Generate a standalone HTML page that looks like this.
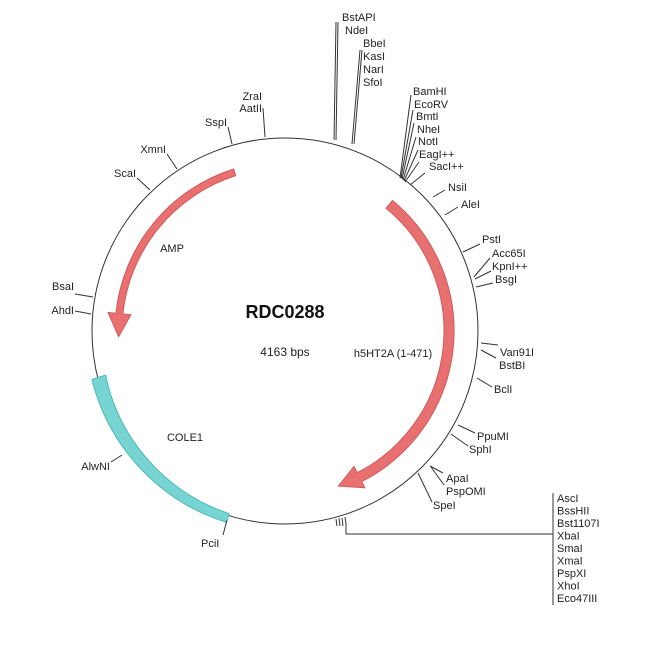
<!DOCTYPE html>
<html><head><style>
body{margin:0;background:#fff;}
svg{display:block;}
text{font-family:"Liberation Sans",Arial,sans-serif;font-size:11px;fill:#222;}
</style></head><body>
<svg width="650" height="650" viewBox="0 0 650 650" xmlns="http://www.w3.org/2000/svg">
<rect width="650" height="650" fill="#fff"/>
<circle cx="285" cy="331" r="193" fill="none" stroke="#333" stroke-width="1"/>
<path d="M 91.9 379.4 A 200 200 0 0 0 226.5 522.3 L 229.1 513.6 A 186 186 0 0 1 105.6 375.1 Z" fill="#76d5d3" stroke="#4fb8b6" stroke-width="1"/>
<path d="M233.6,169 A170 170 0 0 0 115.9,313.2 L108,312.4 L118.6,336.8 L130.9,314.8 L122.9,314 A163 163 0 0 1 235.7,175.7 Z" fill="#e87070" stroke="#d05a5a" stroke-width="1"/>
<path d="M392.5,200.5 A169 169 0 0 1 361.7,481.6 L364.9,487.8 L338.4,486.1 L354.0,466.4 L357.2,472.7 A159 159 0 0 0 386.1,208.3 Z" fill="#e87070" stroke="#d05a5a" stroke-width="1"/>
<g stroke="#333" stroke-width="1" fill="none">
<polyline points="336,22 334,140"/>
<polyline points="338,22 336,140"/>
<polyline points="360,50 352,144"/>
<polyline points="362,50 354,144"/>
<polyline points="265,137 263,108"/>
<polyline points="232,144 228,127"/>
<polyline points="177,169 167,154"/>
<polyline points="150,190 137,178"/>
<polyline points="93,297 75,294"/>
<polyline points="91,314 75,311"/>
<polyline points="122,455 111,462"/>
<polyline points="227,520 223,535"/>
<polyline points="400,178 411,95"/>
<polyline points="401,178 413,110"/>
<polyline points="402,179 414,123"/>
<polyline points="403,180 416,137"/>
<polyline points="404,181 418,150"/>
<polyline points="405,182 419,162"/>
<polyline points="410,185 425,173"/>
<polyline points="433,197 445,190"/>
<polyline points="445,215 458,207"/>
<polyline points="463,252 480,244"/>
<polyline points="474,277 490,258"/>
<polyline points="475,279 491,271"/>
<polyline points="476,287 493,283"/>
<polyline points="481,343 498,345"/>
<polyline points="481,350 496,358"/>
<polyline points="477,378 492,387"/>
<polyline points="458,425 475,433"/>
<polyline points="451,434 468,446"/>
<polyline points="430,466 443,473"/>
<polyline points="431,467 444,485"/>
<polyline points="418,473 432,502"/>
<polyline points="336,519 337,526"/>
<polyline points="339,518 340,526"/>
<polyline points="342,518 343,526"/>
<polyline points="345,517 346,524"/>
<polyline points="346,524 346,534 553,534"/>
<polyline points="553,493 553,605"/>
</g>
<text x="342" y="21">BstAPI</text>
<text x="345" y="34">NdeI</text>
<text x="363" y="47">BbeI</text>
<text x="363" y="60">KasI</text>
<text x="363" y="73">NarI</text>
<text x="363" y="86">SfoI</text>
<text x="262" y="100" text-anchor="end">ZraI</text>
<text x="262" y="112" text-anchor="end">AatII</text>
<text x="227" y="126" text-anchor="end">SspI</text>
<text x="166" y="153" text-anchor="end">XmnI</text>
<text x="136" y="177" text-anchor="end">ScaI</text>
<text x="74" y="290" text-anchor="end">BsaI</text>
<text x="74" y="314" text-anchor="end">AhdI</text>
<text x="110" y="470" text-anchor="end">AlwNI</text>
<text x="201" y="547">PciI</text>
<text x="413" y="95">BamHI</text>
<text x="414" y="108">EcoRV</text>
<text x="416" y="120">BmtI</text>
<text x="417" y="133">NheI</text>
<text x="418" y="145">NotI</text>
<text x="419" y="158">EagI++</text>
<text x="429" y="170">SacI++</text>
<text x="448" y="191">NsiI</text>
<text x="461" y="208">AleI</text>
<text x="482" y="243">PstI</text>
<text x="492" y="257">Acc65I</text>
<text x="492" y="270">KpnI++</text>
<text x="495" y="283">BsgI</text>
<text x="500" y="356">Van91I</text>
<text x="499" y="369">BstBI</text>
<text x="494" y="393">BclI</text>
<text x="477" y="440">PpuMI</text>
<text x="469" y="453">SphI</text>
<text x="446" y="482">ApaI</text>
<text x="446" y="495">PspOMI</text>
<text x="433" y="509">SpeI</text>
<text x="557" y="502">AscI</text>
<text x="557" y="514.5">BssHII</text>
<text x="557" y="527">Bst1107I</text>
<text x="557" y="539.5">XbaI</text>
<text x="557" y="552">SmaI</text>
<text x="557" y="564.5">XmaI</text>
<text x="557" y="577">PspXI</text>
<text x="557" y="589.5">XhoI</text>
<text x="557" y="602">Eco47III</text>
<text x="285" y="318" text-anchor="middle" style="font-size:18px;font-weight:bold;fill:#111">RDC0288</text>
<text x="285" y="356" text-anchor="middle" style="font-size:12px">4163 bps</text>
<text x="393" y="357" text-anchor="middle">h5HT2A (1-471)</text>
<text x="172" y="252" text-anchor="middle">AMP</text>
<text x="185" y="441" text-anchor="middle">COLE1</text>
</svg>
</body></html>
